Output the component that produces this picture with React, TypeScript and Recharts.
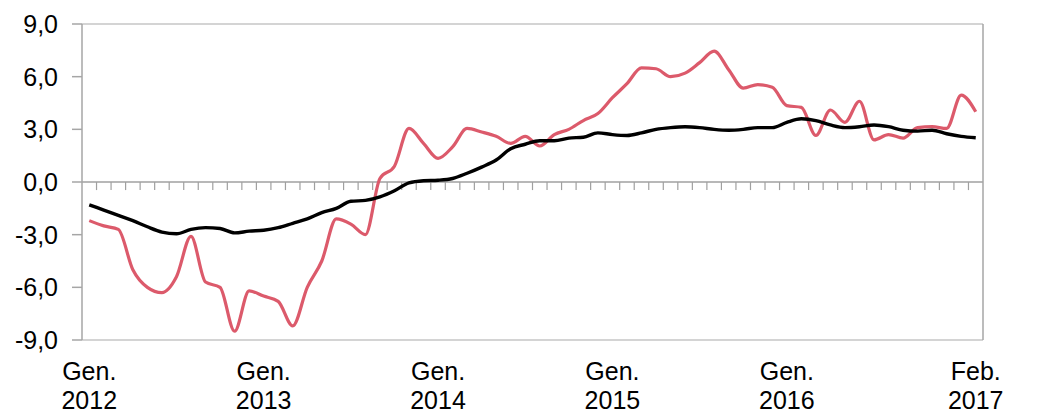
import { LineChart, Line, XAxis, YAxis, ReferenceLine } from 'recharts';

// Monthly values, Jan 2012 .. Feb 2017 (62 months)
const RED_SERIES = [
  -2.2, -2.5, -2.7, -5.0, -6.0, -6.3, -5.4, -3.1, -5.7, -6.0, -8.5, -6.2,
  -6.5, -6.8, -8.2, -6.0, -4.5, -2.1, -2.4, -3.0, 0.2, 0.9, 3.05, 2.2,
  1.35, 2.0, 3.05, 2.85, 2.6, 2.2, 2.6, 2.05, 2.7, 3.0, 3.5, 3.9,
  4.8, 5.6, 6.5, 6.45, 6.0, 6.2, 6.8, 7.45, 6.4, 5.35, 5.55, 5.4,
  4.35, 4.25, 2.65, 4.1, 3.4, 4.6, 2.4, 2.7, 2.5, 3.1, 3.15, 3.05,
  4.95, 4.0,
];

const BLACK_SERIES = [
  -1.3, -1.6, -1.9, -2.2, -2.55, -2.85, -2.95, -2.7, -2.6, -2.65, -2.9, -2.8,
  -2.75, -2.6, -2.35, -2.1, -1.75, -1.5, -1.1, -1.05, -0.85, -0.5, -0.05, 0.07,
  0.1, 0.2, 0.5, 0.85, 1.25, 1.9, 2.15, 2.35, 2.35, 2.5, 2.55, 2.8,
  2.7, 2.65, 2.8, 3.0, 3.1, 3.15, 3.1, 3.0, 2.95, 3.0, 3.1, 3.1,
  3.4, 3.6, 3.5, 3.25, 3.1, 3.15, 3.25, 3.15, 2.95, 2.9, 2.95, 2.75,
  2.6, 2.52,
];

// category labels shown under the plot (index -> two lines)
const LABEL_INDEX = [0, 12, 24, 36, 48, 61];
const LABEL_TEXT = [
  ['Gen.', '2012'],
  ['Gen.', '2013'],
  ['Gen.', '2014'],
  ['Gen.', '2015'],
  ['Gen.', '2016'],
  ['Feb.', '2017'],
];

const Y_TICKS = [-9, -6, -3, 0, 3, 6, 9];

const data = RED_SERIES.map((v, i) => ({ idx: i, red: v, black: BLACK_SERIES[i] }));

// month boundaries for the small tick marks on the zero line
const monthBounds = RED_SERIES.slice(1).map((_, i) => i + 0.5);

const FONT = '"Liberation Sans", Arial, sans-serif';
const fmt = (v: number) => v.toFixed(1).replace('.', ',');

function XLabel(props: any) {
  const { x, y, payload } = props;
  const pos = LABEL_INDEX.indexOf(payload.value);
  const lines = LABEL_TEXT[pos] || ['', ''];
  return (
    <text x={x} y={y + 40} textAnchor="middle" fontSize={25} fontFamily={FONT} fill="#000">
      <tspan x={x}>{lines[0]}</tspan>
      <tspan x={x} dy={29}>{lines[1]}</tspan>
    </text>
  );
}

export default function App() {
  return (
    <div style={{ position: 'absolute', left: 0, top: 0, background: '#fff' }}>
      <LineChart width={1055} height={414} data={data} margin={{ top: 24, right: 0, left: 0, bottom: 0 }}>
        <XAxis
          type="number"
          dataKey="idx"
          domain={[-0.5, 61.5]}
          ticks={LABEL_INDEX}
          interval={0}
          height={74}
          axisLine={false}
          tickLine={false}
          tickSize={0}
          tickMargin={0}
          tick={<XLabel />}
        />
        <YAxis
          yAxisId="left"
          domain={[-9, 9]}
          ticks={Y_TICKS}
          width={82}
          tickFormatter={fmt}
          tickSize={10}
          tickMargin={14}
          axisLine={{ stroke: '#a6a6a6', strokeWidth: 1.5 }}
          tickLine={{ stroke: '#a6a6a6', strokeWidth: 1.5 }}
          tick={{ fill: '#000', fontSize: 25, fontFamily: FONT }}
        />
        <YAxis
          yAxisId="right"
          orientation="right"
          domain={[-9, 9]}
          ticks={Y_TICKS}
          width={72}
          tickFormatter={fmt}
          tickSize={9}
          tickMargin={14}
          axisLine={{ stroke: '#a6a6a6', strokeWidth: 1.5 }}
          tickLine={{ stroke: '#a6a6a6', strokeWidth: 1.5 }}
          tick={{ fill: '#000', fontSize: 25, fontFamily: FONT, textAnchor: 'start' }}
        />
        <ReferenceLine yAxisId="left" y={9} stroke="#c6c6c6" strokeWidth={1.5} />
        <ReferenceLine yAxisId="left" y={-9} stroke="#c6c6c6" strokeWidth={1.5} />
        <ReferenceLine yAxisId="left" y={0} stroke="#a0a0a0" strokeWidth={1.5} />
        {monthBounds.map((b) => (
          <ReferenceLine
            key={b}
            yAxisId="left"
            segment={[{ x: b, y: 0 }, { x: b, y: -0.46 }]}
            stroke="#a0a0a0"
            strokeWidth={1.2}
          />
        ))}
        <Line
          yAxisId="left"
          type="monotone"
          dataKey="red"
          stroke="#dc5a6b"
          strokeWidth={3.2}
          dot={false}
          isAnimationActive={false}
        />
        <Line
          yAxisId="left"
          type="monotone"
          dataKey="black"
          stroke="#000"
          strokeWidth={3.4}
          dot={false}
          isAnimationActive={false}
        />
      </LineChart>
    </div>
  );
}
